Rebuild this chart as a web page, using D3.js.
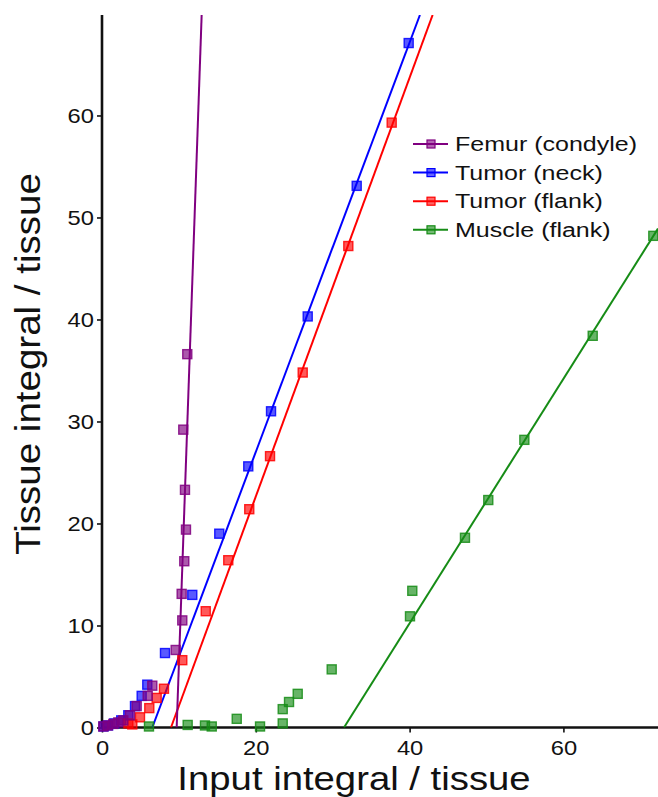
<!DOCTYPE html>
<html>
<head>
<meta charset="utf-8">
<script src="https://cdn.jsdelivr.net/npm/d3@7"></script>
<style>
	body { margin: 0; background: #fff; }
	svg { display: block; font-family: 'Liberation Sans', Arial, sans-serif; }
</style>
</head>
<body>
<svg id="chart" width="658" height="797"></svg>
<script>
/* global d3 */

const seriesNames = ['Femur (condyle)', 'Tumor (neck)', 'Tumor (flank)', 'Muscle (flank)'];
const seriesColors = ['#800080', '#0000ff', '#ff0000', '#168c16'];

const femurX = [11.09, 10.57, 10.79, 10.92, 10.70, 10.36, 10.44, 9.58, 6.54, 5.94, 4.51, 3.64, 2.77, 2.12, 1.47, 0.74, 0.17];
const femurY = [36.6, 29.2, 23.3, 19.4, 16.3, 13.1, 10.5, 7.6, 4.1, 3.1, 2.1, 1.2, 0.7, 0.5, 0.35, 0.2, 0.1];
const neckX = [39.88, 33.12, 26.75, 21.98, 19.02, 15.25, 11.74, 8.19, 5.89, 5.16, 4.29, 3.42, 2.5, 1.6, 0.8, 0.2];
const neckY = [67.1, 53.1, 40.3, 31.0, 25.6, 19.0, 13.0, 7.3, 4.2, 3.1, 2.1, 1.2, 0.7, 0.4, 0.2, 0.1];
const flankX = [37.67, 32.03, 26.1, 21.85, 19.15, 16.42, 13.49, 10.44, 8.06, 7.11, 6.15, 4.94, 3.94, 3.42];
const flankY = [59.3, 47.2, 34.8, 26.6, 21.4, 16.4, 11.4, 6.6, 3.8, 2.9, 1.9, 1.0, 0.3, 0.4];
const muscleX = [71.69, 63.81, 54.92, 50.23, 47.2, 40.35, 40.05, 29.87, 25.45, 24.32, 23.5, 23.5, 20.55, 17.52, 13.39, 14.27, 11.14, 6.11];
const muscleY = [48.2, 38.4, 28.2, 22.3, 18.6, 13.4, 10.9, 5.7, 3.3, 2.5, 1.8, 0.4, 0.1, 0.85, 0.2, 0.1, 0.25, 0.1];

// linear fits: slope and x-intercept
const fitSlope = [21.5, 2.007, 2.053, 1.198];
const fitXIntercept = [9.71, 6.54, 8.97, 31.47];

const xTicks = [0, 20, 40, 60];
const yTicks = [0, 10, 20, 30, 40, 50, 60];

const series = [
	{ name: seriesNames[0], color: seriesColors[0], xs: femurX, ys: femurY, slope: fitSlope[0], x0: fitXIntercept[0] },
	{ name: seriesNames[1], color: seriesColors[1], xs: neckX, ys: neckY, slope: fitSlope[1], x0: fitXIntercept[1] },
	{ name: seriesNames[2], color: seriesColors[2], xs: flankX, ys: flankY, slope: fitSlope[2], x0: fitXIntercept[2] },
	{ name: seriesNames[3], color: seriesColors[3], xs: muscleX, ys: muscleY, slope: fitSlope[3], x0: fitXIntercept[3] },
];

const width = 658;
const margin = { top: 15, right: 0, bottom: 69.5, left: 102 };
const height = 797;

const x = d3.scaleLinear().domain([0, 72.3]).range([margin.left, width - margin.right]);
const y = d3.scaleLinear().domain([0, 69.85]).range([height - margin.bottom, margin.top]);

const svg = d3.select('#chart');

// stretch a text element horizontally to a given factor of its natural width
const stretch = (sel, factor) => sel.each(function () {
	const w = this.getComputedTextLength();
	d3.select(this).attr('textLength', w * factor).attr('lengthAdjust', 'spacingAndGlyphs');
});

svg.append('clipPath').attr('id', 'plot')
	.append('rect')
	.attr('x', x(0)).attr('y', y.range()[1])
	.attr('width', x.range()[1] - x(0)).attr('height', y(0) - y.range()[1]);

// axes
const yAxis = svg.append('g')
	.attr('transform', `translate(${x(0)},0)`)
	.call(d3.axisLeft(y).tickValues(yTicks).tickSize(5).tickPadding(3).tickFormat(d3.format('d')));
const xAxis = svg.append('g')
	.attr('transform', `translate(0,${y(0)})`)
	.call(d3.axisBottom(x).tickValues(xTicks).tickSize(5).tickPadding(8).tickFormat(d3.format('d')));

for (const ax of [xAxis, yAxis]) {
	ax.select('.domain').attr('stroke', '#111').attr('stroke-width', 2.6);
	ax.selectAll('.tick line').attr('stroke', '#111').attr('stroke-width', 1.6);
	ax.selectAll('.tick text')
		.attr('fill', '#111')
		.style('font-size', '21px')
		.style('font-family', "'Liberation Sans', Arial, sans-serif")
		.call(stretch, 1.13);
}
xAxis.select('.domain').attr('d', `M${x.range()[0]},0H${x.range()[1]}`);
yAxis.select('.domain').attr('d', `M0,${y.range()[0]}V${y.range()[1]}`);

// fit lines, from the x-intercept up to where they leave the plot
const fitEnd = s => {
	const xTop = s.x0 + y.domain()[1] / s.slope;
	const xe = Math.min(xTop, x.domain()[1]);
	return [[s.x0, 0], [xe, s.slope * (xe - s.x0)]];
};

const line = d3.line().x(d => x(d[0])).y(d => y(d[1]));
const drawOrder = [1, 2, 3, 0];
const plot = svg.append('g').attr('clip-path', 'url(#plot)');
const size = 9;

for (const i of drawOrder) {
	const s = series[i];
	plot.append('path')
		.attr('d', line(fitEnd(s)))
		.attr('fill', 'none')
		.attr('stroke', s.color)
		.attr('stroke-width', 2);
}
for (const i of drawOrder) {
	const s = series[i];
	svg.append('g').selectAll('rect')
		.data(d3.zip(s.xs, s.ys))
		.enter().append('rect')
			.attr('x', d => x(d[0]) - size / 2)
			.attr('y', d => y(d[1]) - size / 2)
			.attr('width', size)
			.attr('height', size)
			.attr('fill', s.color)
			.attr('fill-opacity', 0.65)
			.attr('stroke', s.color)
			.attr('stroke-opacity', 0.85)
			.attr('stroke-width', 1.4);
}

// legend
const legend = svg.append('g').attr('transform', 'translate(413,144)');
const rows = legend.selectAll('g')
	.data(series)
	.enter().append('g')
		.attr('transform', (d, i) => `translate(0,${i * 28.6})`);
rows.append('line')
	.attr('x1', 0).attr('x2', 35)
	.attr('stroke', d => d.color)
	.attr('stroke-width', 2);
rows.append('rect')
	.attr('x', 18 - 4).attr('y', -4)
	.attr('width', 8).attr('height', 8)
	.attr('fill', d => d.color)
	.attr('fill-opacity', 0.6)
	.attr('stroke', d => d.color)
	.attr('stroke-width', 1.2);
rows.append('text')
	.attr('x', 42)
	.attr('y', 7)
	.attr('fill', '#111')
	.style('font-size', '20px')
	.text(d => d.name)
	.call(stretch, 1.25);

// axis titles
svg.append('text')
	.attr('x', 354)
	.attr('y', 790)
	.attr('text-anchor', 'middle')
	.attr('fill', '#111')
	.style('font-size', '33px')
	.text('Input integral / tissue')
	.call(stretch, 1.16);

svg.append('text')
	.attr('transform', 'translate(40,364) rotate(-90)')
	.attr('text-anchor', 'middle')
	.attr('fill', '#111')
	.style('font-size', '35px')
	.text('Tissue integral / tissue')
	.call(stretch, 1.1);
</script>
</body>
</html>
